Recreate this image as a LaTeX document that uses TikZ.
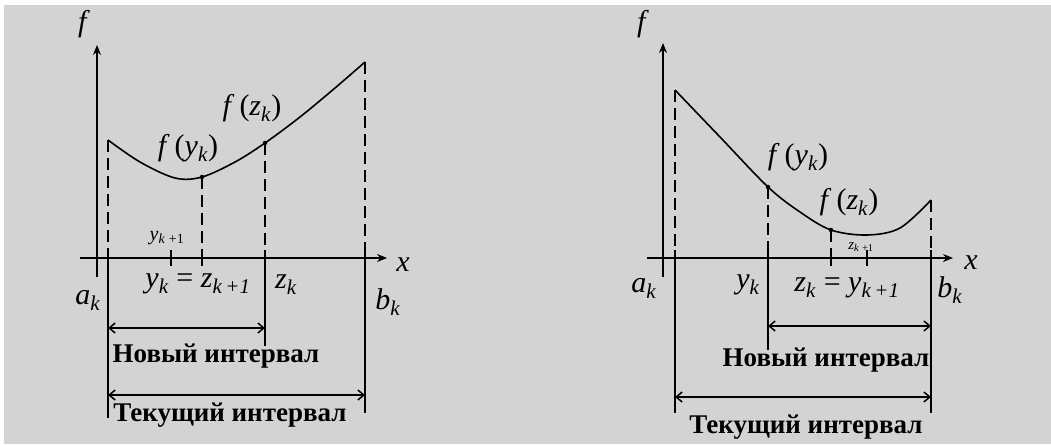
\documentclass[tikz,border=0pt]{standalone}
\usepackage{fontspec}
\setmainfont{Liberation Serif}
\usetikzlibrary{arrows.meta}
\definecolor{bggray}{RGB}{211,211,211}
\newcommand\vv[1]{\textit{#1}}
\newcommand\sbk[1]{\textsubscript{\textit{#1}}}
\tikzset{
  axis/.style={line width=1.7pt,-{Stealth[length=10pt,width=8pt]}},
  guide/.style={line width=1.7pt,dash pattern=on 12pt off 6pt},
  solidv/.style={line width=1.7pt},
  curve/.style={line width=1.6pt},
  span/.style={line width=1.5pt,{Straight Barb[length=6pt,width=10pt]}-{Straight Barb[length=6pt,width=10pt]}},
  lbl/.style={inner sep=0pt,font=\fontsize{30}{32}\selectfont},
  mlbl/.style={inner sep=0pt,font=\fontsize{30}{32}\selectfont},
  slbl/.style={inner sep=0pt,font=\fontsize{20}{22}\selectfont},
  sslbl/.style={inner sep=0pt,font=\fontsize{15}{16}\selectfont},
  tlbl/.style={inner sep=0pt,font=\fontsize{27}{30}\selectfont\bfseries},
  dot/.style={circle,fill=black,inner sep=0pt,minimum size=4.5pt}
}
\begin{document}
\begin{tikzpicture}[x=1pt,y=-1pt]
\fill[white] (0,0) rectangle (1051,444);
\fill[bggray] (4,5) rectangle (1051,444);
\useasboundingbox (0,0) rectangle (1051,444);

% ---------------- left diagram ----------------
\coordinate (LfB) at (97,277);
\coordinate (LfT) at (97,45);
\coordinate (LxL) at (80,258);
\coordinate (LxR) at (387,258);
\draw[axis] (LfB) -- (LfT);
\draw[axis] (LxL) -- (LxR);
\node[mlbl] (Lf) at (84,24) {\vv{f}};
\node[mlbl] (Lx) at (403,265) {\vv{x}};

\coordinate (LA) at (108,140);
\coordinate (LY) at (202,177);
\coordinate (LZ) at (265,143);
\coordinate (LB) at (365,62);
\draw[curve] plot[smooth,tension=0.55] coordinates {(108,140) (140,162) (175,178) (202,177) (235,162) (265,143) (300,117) (335,88) (365,62)};
\node[dot] (LYd) at (LY) {};
\node[dot] (LZd) at (LZ) {};

\coordinate (LAx) at (108,258);
\coordinate (LYx) at (202,258);
\coordinate (LZx) at (265,258);
\coordinate (LBx) at (365,258);
\draw[guide] (LA) -- (LAx);
\draw[guide] (LY) -- (LYx);
\draw[guide] (LZ) -- (LZx);
\draw[guide] (LB) -- (LBx);
\draw[solidv] (108,250) -- (108,418);
\draw[solidv] (202,250) -- (202,266);
\draw[solidv] (265,250) -- (265,346);
\draw[solidv] (365,250) -- (365,413);
\draw[solidv] (171,250) -- (171,266);

\node[slbl] (Lyk1) at (167,238) {\vv{y}\sbk{k}\,\textsubscript{+1}};
\node[lbl] (Lfy) at (188,148) {\vv{f}\,(\vv{y}\sbk{k})};
\node[lbl] (Lfz) at (252,108) {\vv{f}\,(\vv{z}\sbk{k})};
\node[lbl] (Lak) at (88,300) {\vv{a}\sbk{k}};
\node[lbl] (Lbk) at (388,302) {\vv{b}\sbk{k}};
\node[lbl] (Lyz) at (198,284) {\vv{y}\sbk{k} = \vv{z}\sbk{k\,+1}};
\node[lbl] (Lzk) at (286,285) {\vv{z}\sbk{k}};

\coordinate (LN1) at (108,328);
\coordinate (LN2) at (265,328);
\draw[span] (LN1) -- (LN2);
\node[tlbl] (LNt) at (216,356) {Новый интервал};
\coordinate (LC1) at (108,395);
\coordinate (LC2) at (365,395);
\draw[span] (LC1) -- (LC2);
\node[tlbl] (LCt) at (230,415) {Текущий интервал};

% ---------------- right diagram ----------------
\coordinate (RfB) at (663,277);
\coordinate (RfT) at (663,43);
\coordinate (RxL) at (647,258);
\coordinate (RxR) at (953,258);
\draw[axis] (RfB) -- (RfT);
\draw[axis] (RxL) -- (RxR);
\node[mlbl] (Rf) at (643,24) {\vv{f}};
\node[mlbl] (Rx) at (971,263) {\vv{x}};

\coordinate (RA) at (675,90);
\coordinate (RY) at (768,187);
\coordinate (RZ) at (831,230);
\coordinate (RB) at (931,200);
\draw[curve] plot[smooth,tension=0.55] coordinates {(675,90) (720,137) (768,187) (800,212) (831,230) (867,235) (900,228) (931,200)};
\node[dot] (RYd) at (RY) {};
\node[dot] (RZd) at (RZ) {};

\coordinate (RAx) at (675,258);
\coordinate (RYx) at (768,258);
\coordinate (RZx) at (831,258);
\coordinate (RBx) at (931,258);
\draw[guide] (RA) -- (RAx);
\draw[guide] (RY) -- (RYx);
\draw[guide] (RZ) -- (RZx);
\draw[guide] (RB) -- (RBx);
\draw[solidv] (675,250) -- (675,413);
\draw[solidv] (768,250) -- (768,350);
\draw[solidv] (831,250) -- (831,266);
\draw[solidv] (931,250) -- (931,413);
\draw[solidv] (867,250) -- (867,266);

\node[sslbl] (Rzk1) at (861,247) {\vv{z}\sbk{k}\,\textsubscript{+1}};
\node[lbl] (Rfy) at (798,157) {\vv{f}\,(\vv{y}\sbk{k})};
\node[lbl] (Rfz) at (849,202) {\vv{f}\,(\vv{z}\sbk{k})};
\node[lbl] (Rak) at (644,288) {\vv{a}\sbk{k}};
\node[lbl] (Rbk) at (950,290) {\vv{b}\sbk{k}};
\node[lbl] (Ryk) at (748,285) {\vv{y}\sbk{k}};
\node[lbl] (Rzy) at (847,288) {\vv{z}\sbk{k} = \vv{y}\sbk{k\,+1}};

\coordinate (RN1) at (768,326);
\coordinate (RN2) at (931,326);
\draw[span] (RN1) -- (RN2);
\node[tlbl] (RNt) at (826,360) {Новый интервал};
\coordinate (RC1) at (675,397);
\coordinate (RC2) at (931,397);
\draw[span] (RC1) -- (RC2);
\node[tlbl] (RCt) at (806,427) {Текущий интервал};
\end{tikzpicture}
\end{document}
